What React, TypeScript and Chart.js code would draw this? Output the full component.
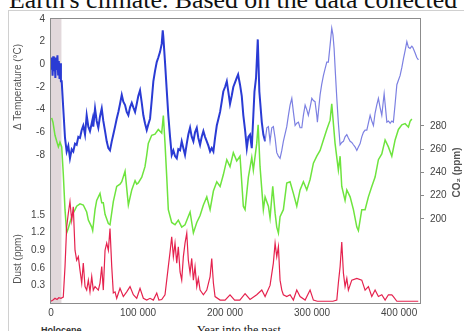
import React, { useEffect, useRef } from "react";
import { Chart, registerables } from "chart.js";

Chart.register(...registerables);

// [age in thousands of years, temperature anomaly °C]
const temperature: [number, number][] = [
  [0,-0.4],[1,0.6],[1.8,-1.0],[2.6,0.7],[3.4,-0.6],[4.2,0.5],[5,-1.2],[5.8,0.6],[6.6,-0.5],[7.4,0.8],[8.2,-0.9],[9,0.3],[9.8,-1.3],[10.6,0.1],[11.4,-1.5],
  [12.3,-1.5],[14.1,-3.9],[16.1,-6.5],[18,-7.7],[19.9,-7.2],[21.8,-8.3],[23.8,-7.5],[25.6,-7.7],[27.6,-7.0],[29.5,-7.1],[31.4,-6.4],[33.3,-6.5],[35.3,-5.8],[37.1,-5.4],[39.1,-6.2],[41,-4.5],[42.9,-5.5],[44.8,-5.9],[46.8,-5.2],[47.9,-4.8],[48.6,-5.5],[50.6,-3.9],[52.5,-5.0],[54.4,-5.6],[56.3,-4.6],[58.3,-3.9],[60.1,-5.0],[62.1,-5.9],[64,-6.8],[65.9,-7.4],[67.8,-7.6],[69.8,-6.8],[71.6,-6.2],[73.6,-5.5],[75.5,-4.8],[77.4,-4.2],[79.3,-3.5],[81.3,-2.7],[83.1,-3.3],[85.1,-3.6],[87,-4.2],[88.9,-4.5],[90.8,-3.8],[92.8,-3.4],[94.6,-3.8],[96.6,-4.2],[98.5,-3.5],[100.3,-2.8],[102.3,-2.3],[104.3,-3.4],[106.1,-4.5],[108,-5.2],[110,-5.8],[111.8,-5.3],[113.8,-4.8],[115.7,-3.2],[117.6,-1.5],[119.5,-0.6],[121.5,0.2],[123.3,0.6],[125.3,1.1],[127.2,1.8],[128.4,3.0],[129.1,2.4],[131,0.2],[133,-2.3],[134.8,-4.5],[136.8,-6.4],[138.7,-8.0],[140.6,-7.6],[142.5,-8.1],[144.5,-8.3],[146.3,-7.5],[148.3,-7.6],[150.2,-6.8],[152.1,-7.4],[154,-8.0],[156,-7.0],[157.8,-6.2],[159.8,-5.6],[161.7,-6.4],[163.6,-6.8],[165.5,-6.0],[167.5,-5.6],[169.3,-6.5],[171.3,-7.1],[173.2,-6.4],[175.1,-5.9],[177,-6.4],[179,-6.8],[180.9,-7.2],[182.8,-7.7],[184.7,-7.4],[186.6,-7.7],[188.5,-6.5],[190.5,-5.4],[192.4,-4.8],[194.3,-4.2],[196.2,-3.3],[198,-2.4],[200,-2.0],[202,-1.5],[203.9,-2.5],[205.7,-3.5],[207.6,-2.8],[209.5,-2.0],[211.5,-1.6],[213.4,-1.2],[215,-0.9],[217.2,-1.8],[219.2,-2.8],[221,-4.5],[223,-5.8],[225,-7.4],[226.8,-6.4],[228.7,-6.2],[230.7,-7.4],[232.5,-4.5],[233.8,-2.4],[235.6,-1.2],[237.6,2.2],[239.4,-2.4],[242.2,-5.1],[244,-6.2],[246,-6.8],[248,-5.6],[249.8,-5.5],[251.7,-6.8],[253.7,-5.6],[255.5,-5.5],[257.5,-6.5],[259.4,-7.8],[261.3,-8.1],[263.2,-8.3],[265.2,-7.6],[267,-6.8],[270.9,-5.5],[272.8,-4.5],[274.7,-3.6],[276.7,-3.0],[278.5,-4.2],[280.5,-5.4],[282.4,-5.2],[284.3,-5.1],[286.2,-5.6],[288.2,-5.6],[290,-4.5],[292,-3.6],[293.9,-4.0],[295.7,-4.5],[297.7,-3.8],[299.7,-3.0],[301.5,-3.2],[303.4,-3.3],[305.4,-4.5],[306.1,-5.1],[307.5,-4.0],[309.2,-2.7],[311,-1.8],[313,-1.0],[314.9,-0.4],[316.9,0.2],[318.7,0.2],[320.7,1.7],[322.6,3.2],[324,2.6],[325.3,1.4],[326.8,-0.8],[328.4,-3.0],[330.2,-5.2],[332.2,-7.1],[334.1,-6.9],[336,-6.8],[337.9,-6.4],[339.9,-6.2],[341.7,-6.5],[343.7,-6.8],[345.6,-6.9],[347.5,-7.1],[349.5,-7.3],[351.4,-7.6],[353.2,-7.3],[355.2,-7.0],[357.1,-6.4],[359,-6.0],[360.9,-5.8],[362.9,-5.8],[364.7,-5.2],[366.7,-4.5],[368.6,-5.0],[370.5,-5.4],[372.4,-4.3],[374.3,-3.6],[376.2,-3.0],[378.1,-3.8],[380.1,-4.5],[381.5,-3.5],[382.8,-2.6],[384.3,-3.8],[385.9,-5.1],[387.7,-5.0],[389.7,-5.2],[391.6,-5.0],[393.4,-5.1],[395.4,-3.5],[397.4,-1.8],[399.2,-1.4],[401.1,-1.0],[403.1,-0.3],[405,0.5],[406.9,1.2],[408.9,2.0],[410.7,1.5],[412.6,1.4],[414.6,1.6],[415.7,1.5],[418.4,1.0],[420.3,0.6],[422.2,0.4]
];

// [age in thousands of years, CO2 ppm]
const co2: [number, number][] = [
  [0.8,287],[2.3,283],[4.6,272],[6.9,266],[8.5,262],[10.3,266],[12.3,262],[14.1,239],[16.1,208],[18,188],[19.9,192],[21.8,197],[24.7,204],[27.6,208],[29.5,211],[33.3,213],[37.1,212],[41,206],[42.9,199],[46.8,193],[47.9,190],[50.6,208],[52.5,216],[56.3,222],[58.3,214],[60.1,214],[62.1,204],[65.9,196],[67.8,195],[71.6,215],[75.5,228],[79.3,230],[81.3,232],[85.1,241],[88.9,212],[92.8,225],[96.6,233],[98.5,230],[100.3,231],[104.3,236],[108,245],[110,255],[111.8,265],[115.7,272],[119.5,273],[123.3,277],[127.2,274],[129.1,289],[131,265],[133,236],[134.8,208],[138.7,197],[142.5,195],[146.3,199],[150.2,193],[154,195],[159.8,206],[163.6,188],[167.5,197],[171.3,203],[175.1,212],[179,219],[182.8,208],[186.6,224],[190.5,232],[194.3,228],[198,238],[202,251],[205.7,245],[209.5,257],[213.4,250],[217.2,254],[221,211],[223,208],[226.8,236],[230.7,253],[232.5,242],[236.4,265],[238,281],[240.2,245],[244,208],[246,219],[249.8,211],[251.7,201],[254.8,228],[257.5,205],[259.4,193],[261.3,188],[263.2,202],[267,208],[270.9,231],[274.7,232],[278.5,222],[282.4,211],[286.2,225],[290,232],[293.9,225],[297.7,234],[301.5,248],[305.4,254],[309.2,259],[313,268],[316.9,277],[320.7,285],[322.6,299],[326.4,265],[330.2,242],[332.2,254],[334.1,228],[337.9,216],[339.9,225],[343.7,219],[347.5,208],[351.4,193],[353.2,190],[357.1,208],[360.9,208],[364.7,219],[368.6,228],[372.4,236],[376.2,251],[380.1,256],[383.9,268],[387.7,262],[391.6,254],[395.4,268],[399.2,277],[403.1,281],[406.9,282],[410.7,279],[412.6,284],[414.6,286]
];

// [age in thousands of years, dust ppm]
const dust: [number, number][] = [
  [0,0.03],[2.3,0.05],[4.6,0.08],[6.9,0.06],[9,0.09],[11.5,0.08],[14.1,0.1],[16.1,0.62],[18,1.30],[19.9,1.53],[21.8,1.73],[23.8,1.41],[25.6,1.64],[27.6,0.90],[29.5,0.73],[31.4,0.79],[33.3,0.56],[35.3,0.34],[37.1,0.68],[39.1,0.28],[41,0.22],[42.9,0.39],[44.8,0.19],[46.8,0.45],[48.6,0.22],[50.6,0.28],[52.5,0.25],[54.4,0.22],[56.3,0.34],[58.3,0.62],[60.1,0.22],[62.1,0.90],[64,1.02],[65.9,0.90],[67.8,1.27],[69.8,0.62],[71.6,0.17],[73.6,0.19],[75.5,0.08],[79.3,0.25],[83.1,0.11],[87,0.19],[90.8,0.28],[94.6,0.14],[98.5,0.08],[102.3,0.25],[106.1,0.08],[110,0.05],[113.8,0.08],[117.6,0.05],[121.5,0.17],[124,0.05],[127.2,0.06],[131,0.14],[134.8,0.62],[136.8,0.87],[138.7,1.13],[140.6,0.79],[142.5,1.02],[144.5,0.68],[146.3,0.96],[148.3,0.53],[150.2,0.39],[152.1,0.79],[154,1.02],[156,1.19],[157.8,0.73],[159.8,0.51],[161.7,0.76],[163.6,0.39],[165.5,0.62],[167.5,0.28],[169.3,0.42],[171.3,0.22],[175.1,0.14],[179,0.22],[182.8,0.45],[184.7,0.76],[186.6,0.34],[188.5,0.11],[194.3,0.05],[200,0.05],[205.7,0.14],[211,0.05],[217,0.05],[223,0.16],[228.7,0.06],[236.4,0.14],[242.2,0.22],[246,0.11],[251.7,0.30],[255.5,0.68],[257.5,1.02],[259.4,0.79],[261.3,0.96],[263.2,0.39],[265.2,0.22],[267,0.14],[270.9,0.11],[274.7,0.14],[278.5,0.05],[282.4,0.22],[286.2,0.11],[292,0.05],[297.7,0.22],[301.5,0.05],[306,0.03],[312,0.03],[318,0.03],[324,0.03],[328.4,0.05],[330.2,0.34],[332.2,0.62],[334.1,1.04],[336,0.51],[337.9,0.28],[339.9,0.42],[341.7,0.22],[345.6,0.39],[351.4,0.42],[357.1,0.39],[360.9,0.22],[364.7,0.28],[368.6,0.11],[372.4,0.22],[376.2,0.11],[380.1,0.14],[383.9,0.05],[387.7,0.14],[391.6,0.14],[393.4,0.11],[397.4,0.03],[405,0.03],[415,0.03],[422,0.03]
];

const xTickValues = [0, 100, 200, 300, 400];
const xTickLabels = ["0", "100 000", "200 000", "300 000", "400 000"];
const tempTicks = [4, 2, 0, -2, -4, -6, -8];
const dustTicks = [0.3, 0.6, 0.9, 1.2, 1.5];
const co2Ticks = [200, 220, 240, 260, 280];
const holocene = [0, 12];

const X_MAX = 424;
const T_MIN = -21.07, T_MAX = 4.09;
const C_MIN = 127.7, C_MAX = 372.9;
const D_MIN = 0, D_MAX = 4.86;

const SANS = '"Liberation Sans", Arial, sans-serif';

function rotText(ctx: CanvasRenderingContext2D, text: string, x: number, y: number, font: string, color: string) {
  ctx.save();
  ctx.translate(x, y);
  ctx.rotate(-Math.PI / 2);
  ctx.font = font;
  ctx.fillStyle = color;
  ctx.textAlign = "center";
  ctx.textBaseline = "middle";
  ctx.fillText(text, 0, 0);
  ctx.restore();
}

export default function App() {
  const ref = useRef<HTMLCanvasElement>(null);

  useEffect(() => {
    const canvas = ref.current;
    if (!canvas) return;
    Chart.defaults.font.family = SANS;

    const decor = {
      id: "decor",
      beforeDatasetsDraw(chart: any) {
        const { ctx, chartArea: a, scales } = chart;
        const x0 = scales.x.getPixelForValue(holocene[0]);
        const x1 = scales.x.getPixelForValue(holocene[1]);
        ctx.save();
        ctx.fillStyle = "#e2d8db";
        ctx.fillRect(x0, a.top, x1 - x0, a.bottom - a.top);
        ctx.restore();
      },
      afterDatasetsDraw(chart: any) {
        const { ctx, chartArea: a, scales } = chart;
        ctx.save();
        ctx.strokeStyle = "#8c8c8c";
        ctx.lineWidth = 1;
        ctx.strokeRect(a.left - 0.5, a.top + 0.5, a.right - a.left + 1, a.bottom - a.top);
        ctx.restore();
        rotText(ctx, "Δ Temperature (°C)", 18, scales.yT.getPixelForValue(-2), `10px ${SANS}`, "#555");
        rotText(ctx, "Dust (ppm)", 18, scales.yD.getPixelForValue(0.75), `10px ${SANS}`, "#555");
        rotText(ctx, "CO₂ (ppm)", 457, scales.yC.getPixelForValue(240), `bold 10px ${SANS}`, "#555");
      },
    };

    const tickFont = { size: 10, family: SANS };
    const chart = new Chart(canvas, {
      type: "line",
      data: {
        datasets: [
          {
            label: "Temperature",
            data: temperature.map(([x, y]) => ({ x, y })),
            yAxisID: "yT",
            borderColor: "#2b3bd6",
            borderWidth: 1.2,
            pointRadius: 0,
            segment: {
              borderColor: (c: any) => (c.p0.parsed.x < 245 ? "#2a3bd4" : "#7c80e2"),
              borderWidth: (c: any) => (c.p0.parsed.x < 245 ? 2.0 : 1.2),
            },
          },
          {
            label: "Dust",
            data: dust.map(([x, y]) => ({ x, y })),
            yAxisID: "yD",
            borderColor: "#e5224e",
            borderWidth: 1.2,
            pointRadius: 0,
          },
          {
            label: "CO2",
            data: co2.map(([x, y]) => ({ x, y })),
            yAxisID: "yC",
            borderColor: "#6ee43e",
            borderWidth: 1.5,
            pointRadius: 0,
          },
        ],
      },
      options: {
        animation: false,
        responsive: false,
        devicePixelRatio: 1,
        layout: { padding: { left: 11, top: 18, right: 0, bottom: 0 } },
        plugins: { legend: { display: false }, tooltip: { enabled: false } },
        scales: {
          x: {
            type: "linear",
            min: 0,
            max: X_MAX,
            afterBuildTicks: (s: any) => { s.ticks = xTickValues.map((v) => ({ value: v })); },
            afterFit: (s: any) => { s.height = 28; },
            ticks: {
              autoSkip: false,
              maxRotation: 0,
              padding: 4,
              color: "#444",
              font: tickFont,
              callback: (v: any) => xTickLabels[xTickValues.indexOf(Number(v))],
            },
            grid: { display: false, drawTicks: false },
            border: { display: false },
          },
          yT: {
            type: "linear",
            position: "left",
            min: T_MIN,
            max: T_MAX,
            afterBuildTicks: (s: any) => {
              const t = tempTicks.map((v) => ({ value: v }));
              dustTicks.forEach((d) => t.push({ value: T_MIN + (d - D_MIN) / (D_MAX - D_MIN) * (T_MAX - T_MIN) }));
              s.ticks = t;
            },
            afterFit: (s: any) => { s.width = 40; },
            ticks: {
              autoSkip: false,
              padding: 6,
              color: "#444",
              font: tickFont,
              callback: (_v: any, i: number) =>
                i < tempTicks.length ? String(tempTicks[i]) : dustTicks[i - tempTicks.length].toFixed(1),
            },
            grid: { display: false, drawTicks: false },
            border: { display: false },
          },
          yD: {
            type: "linear",
            display: false,
            min: D_MIN,
            max: D_MAX,
          },
          yC: {
            type: "linear",
            position: "right",
            min: C_MIN,
            max: C_MAX,
            afterBuildTicks: (s: any) => { s.ticks = co2Ticks.map((v) => ({ value: v })); },
            afterFit: (s: any) => { s.width = 44; },
            ticks: { autoSkip: false, padding: 6, color: "#444", font: tickFont },
            grid: { display: true, drawOnChartArea: false, drawTicks: true, tickLength: 4, color: "#888" },
            border: { display: false },
          },
        },
      },
      plugins: [decor],
    } as any);

    return () => chart.destroy();
  }, []);

  return (
    <div style={{ position: "fixed", left: 0, top: 0, width: 464, height: 331, overflow: "hidden", background: "#fff" }}>
      <div
        style={{
          position: "absolute", left: 9, top: -13, whiteSpace: "nowrap",
          fontFamily: '"Liberation Serif", "Times New Roman", serif', fontSize: 25.8, lineHeight: "25px", color: "#111",
        }}
      >
        Earth's climate. Based on the data collected
      </div>
      <div style={{ position: "absolute", left: 8, top: 10, width: 480, height: 340, borderTop: "1px solid #d0d0d0", borderLeft: "1px solid #d0d0d0" }} />
      <div style={{ position: "absolute", left: 41, top: 325, fontFamily: SANS, fontWeight: "bold", fontSize: 9, lineHeight: "10px", color: "#333" }}>
        Holocene
      </div>
      <div style={{ position: "absolute", left: 197, top: 324, fontFamily: '"Liberation Serif", "Times New Roman", serif', fontSize: 12, lineHeight: "12px", color: "#111" }}>
        Year into the past
      </div>
      <canvas ref={ref} width={464} height={331} style={{ position: "absolute", left: 0, top: 0, width: 464, height: 331 }} />
    </div>
  );
}
